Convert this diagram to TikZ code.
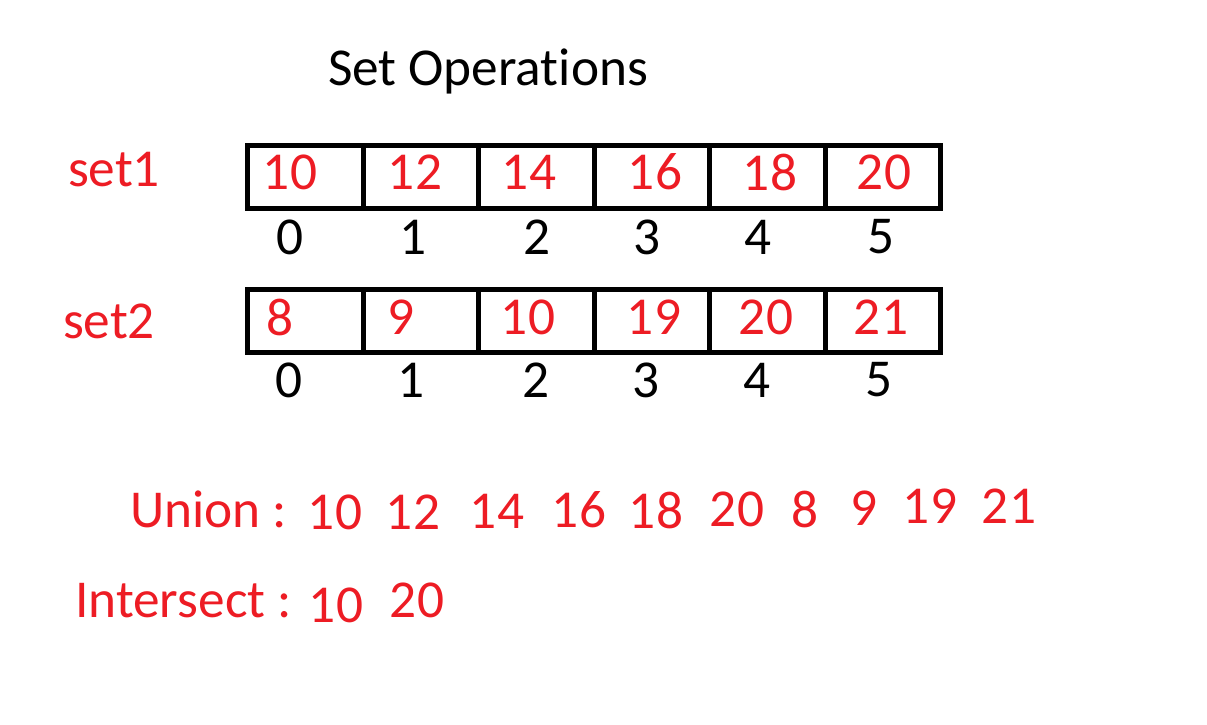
\documentclass[tikz,border=0pt]{standalone}
\usepackage{fontspec}
\setmainfont{Carlito}[Ligatures=NoCommon]
\definecolor{pred}{HTML}{ED1C24}
\begin{document}
\begin{tikzpicture}[x=1pt,y=-1pt,
  cell/.style={draw=black,line width=5pt,minimum width=115.5pt,minimum height=63.5pt,inner sep=0pt,outer sep=0pt,anchor=north west},
  big/.style={font=\fontsize{53.3}{53.3}\selectfont,inner sep=0pt},
  val/.style={big,text=pred},
  idx/.style={big,text=black},
  lab/.style={big,text=pred},
  res/.style={big,text=pred}]
\useasboundingbox[fill=white] (0,0) rectangle (1207,724);
\node[big] (title) at (488,71) {Set Operations};
% set1
\node[lab] (s1) at (114,170) {set1};
\foreach \i in {0,...,5} {
  \node[cell] (a\i) at ({247.5+115.5*\i},145) {};
}
\node[val] (a0t) at (290,172) {10};
\node[val] (a1t) at (415,172) {12};
\node[val] (a2t) at (529,172) {14};
\node[val] (a3t) at (655,172) {16};
\node[val] (a4t) at (770,172) {18};
\node[val] (a5t) at (884,172) {20};
\node[idx] (ai0) at (290,237) {0};
\node[idx] (ai1) at (413,237) {1};
\node[idx] (ai2) at (537,237) {2};
\node[idx] (ai3) at (647,237) {3};
\node[idx] (ai4) at (758,237) {4};
\node[idx] (ai5) at (881,237) {5};
% set2
\node[lab] (s2) at (109,321) {set2};
\foreach \i in {0,...,5} {
  \node[cell] (b\i) at ({247.5+115.5*\i},289) {};
}
\node[val] (b0t) at (280,317) {8};
\node[val] (b1t) at (401,317) {9};
\node[val] (b2t) at (528,317) {10};
\node[val] (b3t) at (654,317) {19};
\node[val] (b4t) at (766,317) {20};
\node[val] (b5t) at (881,317) {21};
\node[idx] (bi0) at (289,380) {0};
\node[idx] (bi1) at (411,380) {1};
\node[idx] (bi2) at (536,380) {2};
\node[idx] (bi3) at (646,380) {3};
\node[idx] (bi4) at (757,380) {4};
\node[idx] (bi5) at (879,380) {5};
% union
\node[lab,anchor=west] (ul) at (130,509) {Union :};
\node[res] (u0) at (335,512) {10};
\node[res] (u1) at (413,512) {12};
\node[res] (u2) at (497,511) {14};
\node[res] (u3) at (579,510) {16};
\node[res] (u4) at (656,510) {18};
\node[res] (u5) at (737,509) {20};
\node[res] (u6) at (805,509) {8};
\node[res] (u7) at (864,508) {9};
\node[res] (u8) at (930,506) {19};
\node[res] (u9) at (1009,506) {21};
% intersect
\node[lab,anchor=west] (il) at (75,601) {Intersect :};
\node[res] (i0) at (336,605) {10};
\node[res] (i1) at (417,600) {20};
\end{tikzpicture}
\end{document}
